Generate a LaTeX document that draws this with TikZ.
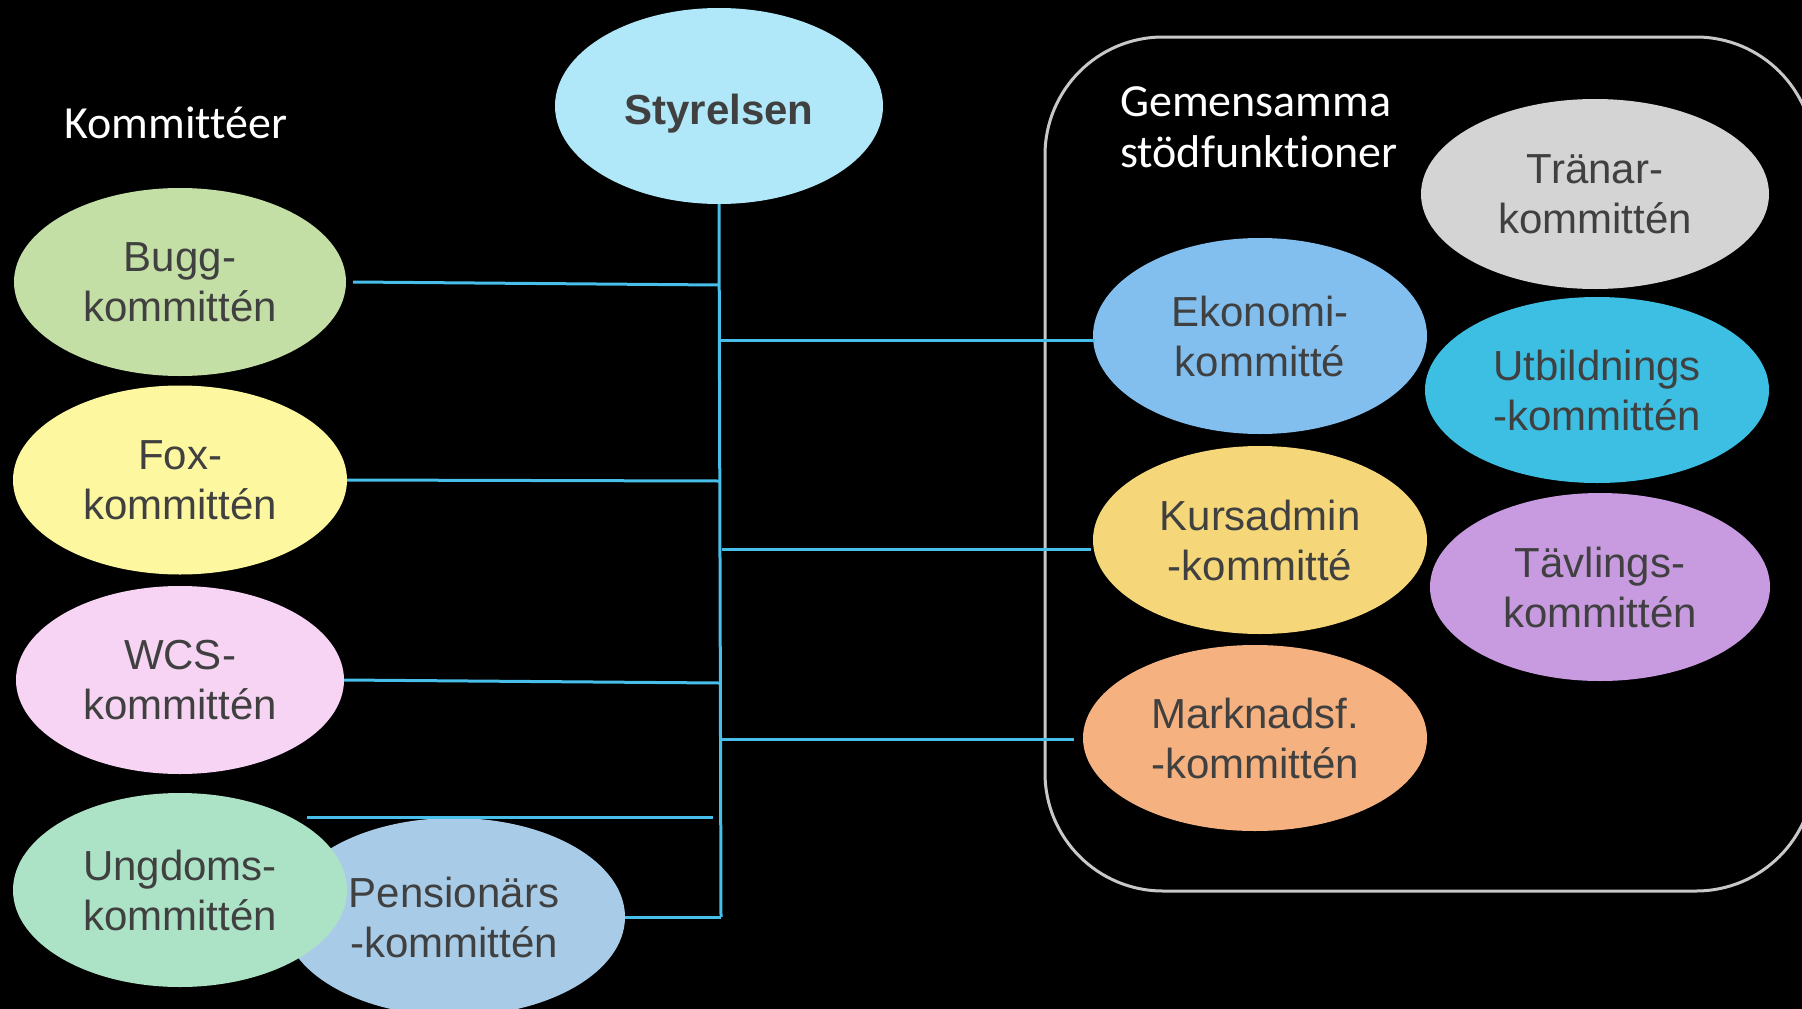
\documentclass[tikz,border=0pt]{standalone}
\usepackage{fontspec}
\setmainfont{Liberation Sans}
\newfontfamily\calib[Ligatures=NoCommon]{Carlito}
\usetikzlibrary{shapes.geometric}
\definecolor{cStyr}{RGB}{176,232,250}
\definecolor{cBugg}{RGB}{196,223,165}
\definecolor{cFox}{RGB}{253,248,160}
\definecolor{cWCS}{RGB}{248,212,244}
\definecolor{cUng}{RGB}{172,226,198}
\definecolor{cPen}{RGB}{168,204,232}
\definecolor{cTra}{RGB}{212,212,212}
\definecolor{cEko}{RGB}{130,191,239}
\definecolor{cUtb}{RGB}{60,191,226}
\definecolor{cKur}{RGB}{245,215,122}
\definecolor{cTav}{RGB}{200,155,224}
\definecolor{cMar}{RGB}{245,178,128}
\definecolor{cLine}{RGB}{72,190,235}
\definecolor{cBox}{RGB}{200,200,200}
\definecolor{cTxt}{RGB}{64,64,64}
\tikzset{
  comm/.style={ellipse, inner sep=0pt, draw=none, text=cTxt, align=center,
    font=\fontsize{42}{50}\selectfont},
  conn/.style={draw=cLine, line width=3pt},
  lbl/.style={text=white, anchor=west, align=left, inner sep=0pt,
    font=\calib\fontsize{46}{51}\selectfont},
}
\begin{document}
\begin{tikzpicture}[x=1pt,y=-1pt]
\fill[black] (0,0) rectangle (1802,1009);
\useasboundingbox (0,0) rectangle (1802,1009);
\clip (0,0) rectangle (1802,1009);

% box of support functions
\draw[cBox, line width=3pt, rounded corners=118pt] (1045,37) rectangle (1814,891);

% titles
\node[lbl] (kom) at (64,123) {Kommittéer};
\node[lbl] (gem) at (1120,127) {Gemensamma\\stödfunktioner};

% board
\node[comm, fill=cStyr, minimum width=328pt, minimum height=196pt,
      text height=36pt, text depth=0pt,
      font=\bfseries\fontsize{42}{50}\selectfont] (styr) at (719,106) {Styrelsen};

% left committees
\node[comm, fill=cBugg, minimum width=332pt, minimum height=188pt] (bugg) at (180,282) {Bugg-\\kommittén};
\node[comm, fill=cFox, minimum width=334pt, minimum height=189pt] (fox) at (180,480) {Fox-\\kommittén};
\node[comm, fill=cWCS, minimum width=328pt, minimum height=188pt] (wcs) at (180,680) {WCS-\\kommittén};
\node[comm, fill=cPen, minimum width=342pt, minimum height=198pt] (pen) at (454,917) {Pensionärs\\-kommittén};
\node[comm, fill=cUng, minimum width=334pt, minimum height=194pt] (ung) at (180,890) {Ungdoms-\\kommittén};

% right committees
\node[comm, fill=cTra, minimum width=348pt, minimum height=190pt] (tra) at (1595,194) {Tränar-\\kommittén};
\node[comm, fill=cEko, minimum width=334pt, minimum height=196pt] (eko) at (1260,336) {Ekonomi-\\kommitté};
\node[comm, fill=cUtb, minimum width=344pt, minimum height=186pt] (utb) at (1597,390) {Utbildnings\\-kommittén};
\node[comm, fill=cKur, minimum width=334pt, minimum height=188pt] (kur) at (1260,540) {Kursadmin\\-kommitté};
\node[comm, fill=cTav, minimum width=340pt, minimum height=188pt] (tav) at (1600,587) {Tävlings-\\kommittén};
\node[comm, fill=cMar, minimum width=344pt, minimum height=186pt] (mar) at (1255,738) {Marknadsf.\\-kommittén};

% connector coordinates
\coordinate (tBot) at (721,917);
\coordinate (tB) at (719,285);
\coordinate (tF) at (719,481);
\coordinate (tW) at (719,683);
\coordinate (uA) at (307,817);
\coordinate (uB) at (713,817);
\coordinate (rE) at (721,340);
\coordinate (rK) at (722,549);
\coordinate (rM) at (720,739);

% connectors
\draw[conn] (styr.south) -- (tBot);
\draw[conn] ([xshift=7pt]bugg.east) -- (tB);
\draw[conn] (fox.east) -- (tF);
\draw[conn] (wcs.east) -- (tW);
\draw[conn] (uA) -- (uB);
\draw[conn] (pen.east) -- (tBot);
\draw[conn] (rE) -- ([xshift=2pt]rE -| eko.west);
\draw[conn] (rK) -- ([xshift=-2pt]rK -| kur.west);
\draw[conn] (rM) -- ([xshift=-9pt]rM -| mar.west);
\end{tikzpicture}
\end{document}
